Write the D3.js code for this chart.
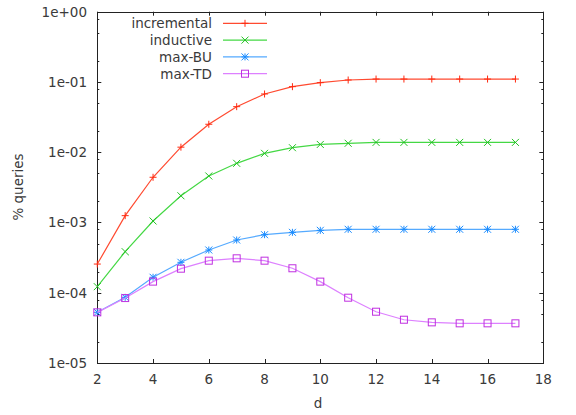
<!DOCTYPE html>
<html>
<head>
<meta charset="utf-8">
<script src="https://cdn.jsdelivr.net/npm/d3@7"></script>
<style>
  body { margin: 0; background: #fff; }
  text { font-family: "DejaVu Sans", sans-serif; font-size: 13.5px; fill: #3a3a3a; }
</style>
</head>
<body>
<script>
const w = 576;
const h = 415;

const dValues = [2, 3, 4, 5, 6, 7, 8, 9, 10, 11, 12, 13, 14, 15, 16, 17];
const incremental = [2.56e-4, 1.25e-3, 4.4e-3, 1.18e-2, 2.5e-2, 4.45e-2, 6.74e-2, 8.57e-2, 9.77e-2, 0.1066, 0.110, 0.110, 0.110, 0.110, 0.110, 0.110];
const inductive = [1.22e-4, 3.84e-4, 1.05e-3, 2.40e-3, 4.59e-3, 6.95e-3, 9.64e-3, 1.16e-2, 1.29e-2, 1.34e-2, 1.38e-2, 1.38e-2, 1.38e-2, 1.38e-2, 1.38e-2, 1.38e-2];
const maxBU = [5.26e-5, 8.6e-5, 1.66e-4, 2.71e-4, 4.06e-4, 5.63e-4, 6.7e-4, 7.24e-4, 7.73e-4, 8.0e-4, 8.0e-4, 8.0e-4, 8.0e-4, 8.0e-4, 8.0e-4, 8.0e-4];
const maxTD = [5.26e-5, 8.4e-5, 1.44e-4, 2.2e-4, 2.86e-4, 3.09e-4, 2.86e-4, 2.23e-4, 1.44e-4, 8.5e-5, 5.37e-5, 4.13e-5, 3.79e-5, 3.67e-5, 3.67e-5, 3.67e-5];

const xTicks = [2, 4, 6, 8, 10, 12, 14, 16, 18];
const yTicks = [1e-5, 1e-4, 1e-3, 1e-2, 1e-1, 1];
const yTickLabels = ['1e-05', '1e-04', '1e-03', '1e-02', '1e-01', '1e+00'];
const seriesNames = ['incremental', 'inductive', 'max-BU', 'max-TD'];

const padL = 97.3, padR = 543.3, padT = 11.7, padB = 363;

const xScale = d3.scaleLinear().domain([2, 18]).range([padL, padR]);
const yScale = d3.scaleLog().domain([1e-5, 1]).range([padB, padT]);

const svg = d3.select('body').append('svg')
  .attr('width', w)
  .attr('height', h);

// minor ticks at 2,5,8 x 10^k
const minor = [];
yTicks.slice(0, -1).forEach(t => { [2, 5, 8].forEach(m => minor.push(t * m)); });

const tickG = svg.append('g').attr('stroke', '#222').attr('stroke-width', 1);
yTicks.forEach(t => {
  const y = Math.round(yScale(t)) + 0.5;
  tickG.append('line').attr('x1', padL).attr('x2', padL + 4).attr('y1', y).attr('y2', y);
  tickG.append('line').attr('x1', padR - 4).attr('x2', padR).attr('y1', y).attr('y2', y);
});
minor.forEach(t => {
  const y = Math.round(yScale(t)) + 0.5;
  tickG.append('line').attr('x1', padL).attr('x2', padL + 2).attr('y1', y).attr('y2', y);
  tickG.append('line').attr('x1', padR - 2).attr('x2', padR).attr('y1', y).attr('y2', y);
});
xTicks.forEach(t => {
  const x = Math.round(xScale(t)) + 0.5;
  tickG.append('line').attr('x1', x).attr('x2', x).attr('y1', padB).attr('y2', padB - 4);
  tickG.append('line').attr('x1', x).attr('x2', x).attr('y1', padT).attr('y2', padT + 4);
});

// frame
svg.append('rect')
  .attr('x', Math.round(padL) + 0.5).attr('y', Math.round(padT) + 0.5)
  .attr('width', Math.round(padR) - Math.round(padL))
  .attr('height', Math.round(padB) - Math.round(padT))
  .attr('fill', 'none').attr('stroke', '#222').attr('stroke-width', 1);

// tick labels
svg.selectAll('.ylab').data(yTicks).enter().append('text')
  .attr('x', 87).attr('y', d => yScale(d) + 5)
  .attr('text-anchor', 'end')
  .text((d, i) => yTickLabels[i]);
svg.selectAll('.xlab').data(xTicks).enter().append('text')
  .attr('x', d => xScale(d)).attr('y', padB + 20.5)
  .attr('text-anchor', 'middle')
  .text(d => d);

svg.append('text').attr('x', 318).attr('y', 408).attr('text-anchor', 'middle').text('d');
svg.append('text')
  .attr('transform', 'translate(23,' + 187 + ') rotate(-90)')
  .attr('text-anchor', 'middle').text('% queries');

const lineColors = ['#ff4a30', '#44d844', '#55aaff', '#dd80ff'];
const markColors = ['#ff2a10', '#22c022', '#1a8cff', '#c030e0'];
const seriesData = [incremental, inductive, maxBU, maxTD];

function marker(g, type, x, y, color) {
  const s = 3.5;
  if (type === 0) {
    g.append('path').attr('d', `M${x - s},${y}H${x + s}M${x},${y - s}V${y + s}`)
      .attr('stroke', color).attr('fill', 'none');
  } else if (type === 1) {
    g.append('path').attr('d', `M${x - s},${y - s}L${x + s},${y + s}M${x - s},${y + s}L${x + s},${y - s}`)
      .attr('stroke', color).attr('fill', 'none');
  } else if (type === 2) {
    g.append('path').attr('d', `M${x - s},${y}H${x + s}M${x},${y - s}V${y + s}M${x - s},${y - s}L${x + s},${y + s}M${x - s},${y + s}L${x + s},${y - s}`)
      .attr('stroke', color).attr('fill', 'none');
  } else {
    g.append('rect').attr('x', x - s).attr('y', y - s).attr('width', 2 * s).attr('height', 2 * s)
      .attr('stroke', color).attr('fill', 'none');
  }
}

const line = d3.line().x(d => xScale(d[0])).y(d => yScale(d[1]));

seriesData.forEach((vals, i) => {
  const pts = dValues.map((d, j) => [d, vals[j]]);
  const g = svg.append('g');
  g.append('path').datum(pts).attr('d', line)
    .attr('fill', 'none').attr('stroke', lineColors[i]).attr('stroke-width', 1.2);
  pts.forEach(p => marker(g, i, xScale(p[0]), yScale(p[1]), markColors[i]));

  // legend
  const ly = 23.3 + i * 16.8;
  svg.append('text').attr('x', 212).attr('y', ly + 5).attr('text-anchor', 'end').text(seriesNames[i]);
  const lg = svg.append('g');
  lg.append('line').attr('x1', 223).attr('x2', 267).attr('y1', ly).attr('y2', ly)
    .attr('stroke', lineColors[i]).attr('stroke-width', 1.2);
  marker(lg, i, 245, ly, markColors[i]);
});
</script>
</body>
</html>
